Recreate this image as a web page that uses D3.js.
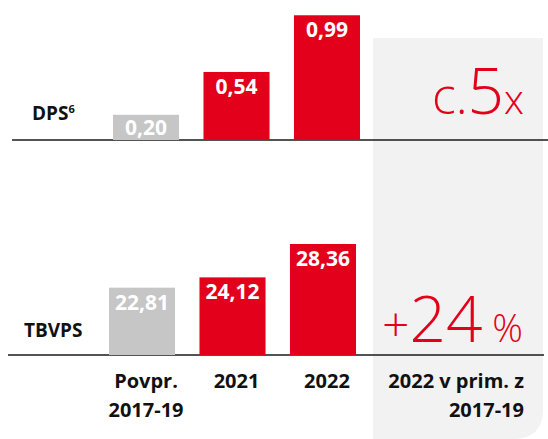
<!DOCTYPE html>
<html>
<head>
<meta charset="utf-8">
<script src="https://cdn.jsdelivr.net/npm/d3@7"></script>
<style>
    body { margin: 0; background: #fff; }
    svg text { font-family: "Open Sans", "Noto Sans", sans-serif; }
</style>
</head>
<body>
<div id="chart"></div>
<script>
// data
const categories = ['Povpr. 2017-19', '2021', '2022'];
const categoryLines = [['Povpr.', '2017-19'], ['2021'], ['2022']];
const dpsValues = [0.20, 0.54, 0.99];
const tbvpsValues = [22.81, 24.12, 28.36];
const barColors = ['#c6c6c6', '#e2001a', '#e2001a'];
const compareLines = ['2022 v prim. z', '2017-19'];

const width = 548, height = 439;
const red = '#e2001a';

// comma as decimal separator
const fmt = d3.formatLocale({decimal: ',', thousands: '.', grouping: [3], currency: ['', '€']}).format('.2f');

const svg = d3.select('#chart')
    .append('svg')
    .attr('width', width)
    .attr('height', height);

// grey comparison panel, rounded at bottom right
const px0 = 373, px1 = 543, py0 = 38, py1 = 439, r = 30;
svg.append('path')
    .attr('d', `M${px0},${py0}H${px1}V${py1 - r}Q${px1},${py1} ${px1 - r},${py1}H${px0}Z`)
    .attr('fill', '#f2f2f2');

const x = d3.scaleBand()
    .domain(categories)
    .range([113, 360])
    .paddingInner(0.27)
    .paddingOuter(0);

const yDps = d3.scaleLinear().domain([0, 1]).range([140, 14]);
const yTb = d3.scaleLinear().domain([14.26, 28.36]).range([355, 244]);

function panel(g, values, y, name, sup) {
    const base = y.range()[0];
    const data = values.map((v, i) => ({cat: categories[i], v, color: barColors[i]}));

    g.append('line')
        .attr('x1', 12).attr('x2', width)
        .attr('y1', base).attr('y2', base)
        .attr('stroke', '#1a1a1a')
        .attr('stroke-width', 1.5);

    g.selectAll('rect.bar')
        .data(data)
        .join('rect')
        .classed('bar', true)
        .attr('x', d => x(d.cat))
        .attr('y', d => y(d.v))
        .attr('width', x.bandwidth())
        .attr('height', d => base - y(d.v))
        .attr('fill', d => d.color);

    g.selectAll('text.val')
        .data(data)
        .join('text')
        .classed('val', true)
        .attr('x', d => x(d.cat) + x.bandwidth() / 2)
        .attr('y', d => Math.min(y(d.v) + 22, base - 5))
        .attr('text-anchor', 'middle')
        .attr('fill', '#fff')
        .attr('font-size', 21)
        .attr('font-weight', 700)
        .text(d => fmt(d.v));

    const t = g.append('text')
        .attr('x', name.x)
        .attr('y', name.y)
        .attr('font-size', 19)
        .attr('font-weight', 700)
        .attr('fill', '#111');
    t.append('tspan').text(name.text);
    if (sup) {
        t.append('tspan').attr('font-size', 11).attr('dy', -7).text(sup);
    }
}

panel(svg.append('g'), dpsValues, yDps, {text: 'DPS', x: 32, y: 119.5}, '6');
panel(svg.append('g').attr('transform', 'translate(-4,0)'), tbvpsValues, yTb, {text: 'TBVPS', x: 28, y: 337});

// big change figures
const c1 = svg.append('text')
    .attr('x', 524).attr('y', 114)
    .attr('text-anchor', 'end')
    .attr('fill', red)
    .attr('font-weight', 300);
c1.append('tspan').attr('font-size', 50).text('c.');
c1.append('tspan').attr('font-size', 64).text('5');
c1.append('tspan').attr('font-size', 40).text('x');

const c2 = svg.append('text')
    .attr('x', 523).attr('y', 341.5)
    .attr('text-anchor', 'end')
    .attr('fill', red)
    .attr('font-weight', 300);
c2.append('tspan').attr('font-size', 48).text('+');
c2.append('tspan').attr('font-size', 64).text('24');
c2.append('tspan').attr('font-size', 38).text('\u00a0%');

// category labels
categoryLines.forEach((lines, i) => {
    svg.append('text')
        .attr('text-anchor', 'middle')
        .attr('font-size', 20)
        .attr('font-weight', 700)
        .attr('fill', '#111')
        .selectAll('tspan')
        .data(lines)
        .join('tspan')
        .attr('x', x(categories[i]) + x.bandwidth() / 2)
        .attr('y', (d, j) => 388 + j * 29)
        .text(d => d);
});

svg.append('text')
    .attr('text-anchor', 'end')
    .attr('font-size', 20)
    .attr('font-weight', 700)
    .attr('fill', '#111')
    .selectAll('tspan')
    .data(compareLines)
    .join('tspan')
    .attr('x', 524)
    .attr('y', (d, j) => 388 + j * 29)
    .text(d => d);
</script>
</body>
</html>
